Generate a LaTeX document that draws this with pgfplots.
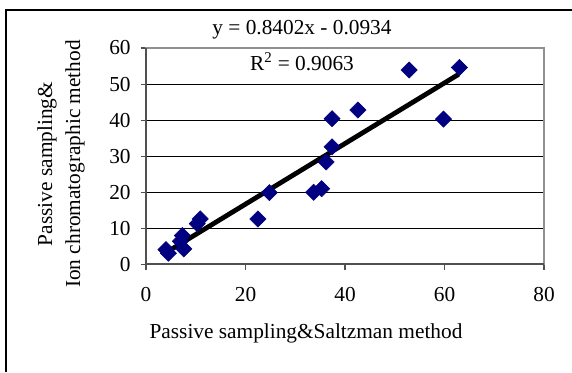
\documentclass[border=0pt]{standalone}
\usepackage{pgfplots}
\pgfplotsset{compat=1.18}
\usepackage{fontspec}
\setmainfont{Liberation Serif}
\definecolor{navy}{HTML}{000080}
\definecolor{framegray}{HTML}{909090}
\definecolor{axisgray}{HTML}{505050}
\begin{document}
\begin{tikzpicture}
\fontsize{16}{21}\selectfont
\path[use as bounding box] (0pt,0pt) rectangle (429pt,279pt);
\draw[black, line width=0.9pt] (4.5pt,0pt) -- (4.5pt,271.5pt) -- (429pt,271.5pt);
\begin{axis}[
  at={(109.5pt,80.7pt)}, anchor=south west,
  scale only axis, width=298.5pt, height=162.3pt,
  xmin=0, xmax=80, ymin=0, ymax=60,
  xtick={0,20,40,60,80}, ytick={0,10,20,30,40,50,60},
  ymajorgrids, grid style={black, line width=0.6pt},
  axis line style={framegray, line width=1.5pt},
  tick align=outside, tick pos=left,
  major tick length=4pt,
  tick style={axisgray, line width=0.8pt},
  /pgf/number format/assume math mode=true,
  ticklabel style={font=\fontsize{16}{19}\selectfont},
  xticklabel style={yshift=-8pt},
  yticklabel style={xshift=-2pt},
  clip=false,
]
\addplot[only marks, mark=square*, mark size=4.3pt, mark options={rotate=45, fill=navy, draw=navy}] coordinates {
(4.0,4.1) (4.5,3.1) (7.3,8.0) (6.9,6.4) (7.6,4.3)
(10.3,11.3) (10.9,12.6) (22.5,12.6) (24.8,19.9)
(33.7,20.0) (35.3,21.0) (36.2,28.4) (37.4,32.6) (37.4,40.4)
(42.6,42.8) (52.9,53.9) (59.8,40.3) (63.0,54.6)
};
\addplot[black, line width=3.6pt] coordinates {(4.2,3.43) (62.8,52.67)};
\draw[axisgray, line width=1.5pt] (axis cs:0,60) -- (axis cs:0,0) -- (axis cs:80,0);
\end{axis}
\node at (226.5pt,256.5pt) {y = 0.8402x - 0.0934};
\node at (226.5pt,232.5pt) {R\textsuperscript{2} = 0.9063};
\node at (229.5pt,29.25pt) {Passive sampling\&Saltzman method};
\node[rotate=90, align=center] at (45.75pt,156pt) {Passive sampling\&\\Ion chromatographic method};
\end{tikzpicture}
\end{document}
